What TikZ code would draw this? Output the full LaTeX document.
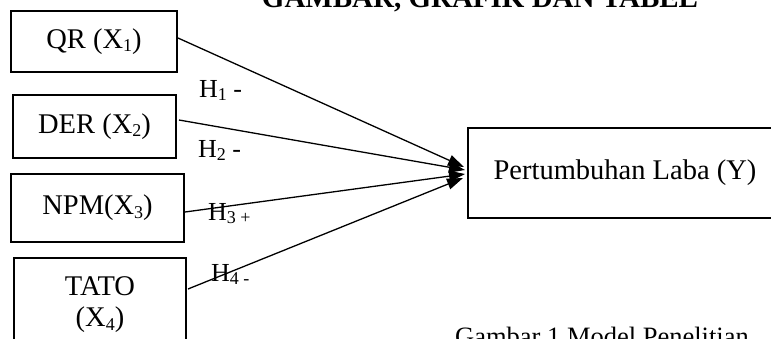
\documentclass[tikz,border=0pt]{standalone}
\usepackage{fontspec}
\setmainfont{Liberation Serif}
\usetikzlibrary{arrows.meta,calc}
\newcommand\sbs[1]{\raisebox{-0.12em}{\fontsize{18}{20}\selectfont #1}}
\begin{document}
\begin{tikzpicture}[x=1pt,y=-1pt,
  box/.style={draw,line width=2pt,rectangle,inner sep=0pt,font=\fontsize{28.5}{31}\selectfont},
  txt/.style={inner sep=0pt,align=center,font=\fontsize{28.5}{31}\selectfont},
  conn/.style={line width=1.3pt,-{Triangle[length=16pt,width=11pt]}},
  hlab/.style={anchor=base west,inner sep=0pt,font=\fontsize{26}{28}\selectfont}]
\useasboundingbox (0,0) rectangle (771,338);
\clip (0,0) rectangle (771,338);

\node[anchor=base,inner sep=0pt,font=\bfseries\fontsize{29}{31}\selectfont] (title) at (480,7) {GAMBAR, GRAFIK DAN TABEL};

\node[box,minimum width=166pt,minimum height=61pt] (qr) at (94,41.5) {QR (X\sbs{1})};
\node[box,minimum width=163pt,minimum height=63pt] (der) at (94.5,126.5) {DER (X\sbs{2})};
\node[box,minimum width=173pt,minimum height=68pt] (npm) at (97.5,208) {NPM(X\sbs{3})};
\node[box,minimum width=172pt,minimum height=120pt] (tato) at (100,318) {};
\node[txt] (tatotxt) at (100,305) {TATO\\(X\sbs{4})};
\node[box,minimum width=314pt,minimum height=90pt] (y) at (625,173) {Pertumbuhan Laba (Y)};

\draw[conn] ($(qr.east)+(0,-3.5)$) -- ($(y.west)+(-3,-6)$);
\draw[conn] ($(der.east)+(2,-6.5)$) -- ($(y.west)+(-2,-3)$);
\draw[conn] ($(npm.east)+(0,4)$) -- ($(y.west)+(-2,1)$);
\draw[conn] ($(tato.north east)+(1,32)$) -- ($(y.west)+(-4,5)$);

\node[hlab] (h1) at (199,97) {H\sbs{1} -};
\node[hlab] (h2) at (198,157) {H\sbs{2} -};
\node[hlab] (h3) at (208,220) {H\sbs{3 +}};
\node[hlab] (h4) at (211,281) {H\sbs{4 -}};

\node[anchor=base,inner sep=0pt,font=\fontsize{26.5}{28}\selectfont] (cap) at (602,345) {Gambar 1 Model Penelitian};
\end{tikzpicture}
\end{document}
